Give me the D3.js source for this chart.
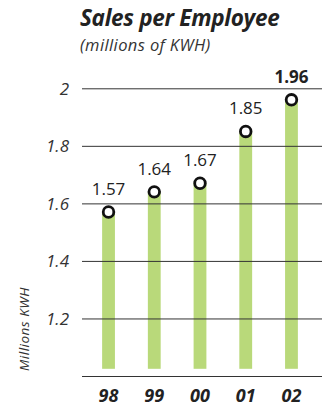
<!DOCTYPE html>
<html>
<head>
<meta charset="utf-8">
<script src="https://cdn.jsdelivr.net/npm/d3@7/dist/d3.min.js"></script>
<style>
  html, body { margin: 0; padding: 0; background: #fff; }
  svg { display: block; font-family: "Open Sans", "Noto Sans", sans-serif; }
</style>
</head>
<body>
<svg id="chart" width="322" height="407"></svg>
<script>
// Sales per employee, millions of KWH
const years = ["98", "99", "00", "01", "02"];
const sales = [1.57, 1.64, 1.67, 1.85, 1.96];
const yTicks = [1.2, 1.4, 1.6, 1.8, 2];

const svg = d3.select("#chart");
const plotLeft = 82, plotRight = 322, plotTop = 88.3, plotBottom = 376;

const x = d3.scaleBand().domain(years).range([82, 318]).paddingInner(0.72).paddingOuter(0.44);
const y = d3.scaleLinear().domain([1, 2]).range([plotBottom, plotTop]);

// title block
svg.append("text").attr("x", 80).attr("y", 26)
  .attr("font-size", 22.5).attr("font-weight", 700).attr("font-style", "italic")
  .attr("letter-spacing", -0.3)
  .attr("fill", "#222").text("Sales per Employee");
svg.append("text").attr("x", 80).attr("y", 51)
  .attr("font-size", 16.5).attr("font-style", "italic")
  .attr("letter-spacing", 0.4)
  .attr("fill", "#333").text("(millions of KWH)");

// bars (stop a little short of the baseline)
svg.append("g").selectAll("rect").data(sales).join("rect")
  .attr("x", (d, i) => x(years[i]))
  .attr("width", x.bandwidth())
  .attr("y", d => y(d))
  .attr("height", d => y(1.025) - y(d))
  .attr("fill", "#b9d97a");

// gridlines drawn over bars
const yAxis = d3.axisLeft(y).tickValues(yTicks).tickSize(-(plotRight - plotLeft)).tickFormat(d3.format("~g"));
const gy = svg.append("g").attr("transform", `translate(${plotLeft},0)`).call(yAxis);
gy.select(".domain").remove();
gy.selectAll(".tick line").attr("stroke", "#333").attr("stroke-width", 1);
gy.selectAll(".tick text")
  .attr("x", -13).attr("dy", "0.35em")
  .attr("font-size", 17).attr("font-style", "italic")
  .attr("font-family", "'Open Sans', sans-serif")
  .attr("fill", "#333");

// baseline
svg.append("line").attr("x1", plotLeft).attr("x2", plotRight)
  .attr("y1", plotBottom + 0.5).attr("y2", plotBottom + 0.5)
  .attr("stroke", "#333").attr("stroke-width", 1);

// x labels
const xAxis = d3.axisBottom(x).tickSize(0);
const gx = svg.append("g").attr("transform", `translate(0,${plotBottom})`).call(xAxis);
gx.select(".domain").remove();
gx.selectAll(".tick text")
  .attr("y", 26).attr("dy", 0)
  .attr("font-size", 18).attr("font-weight", 700).attr("font-style", "italic")
  .attr("font-family", "'Open Sans', sans-serif")
  .attr("fill", "#222");

// markers
svg.append("g").selectAll("circle").data(sales).join("circle")
  .attr("cx", (d, i) => x(years[i]) + x.bandwidth() / 2)
  .attr("cy", d => y(d))
  .attr("r", 5.3)
  .attr("fill", "#fff").attr("stroke", "#111").attr("stroke-width", 2.8);

// value labels
svg.append("g").selectAll("text").data(sales).join("text")
  .attr("x", (d, i) => x(years[i]) + x.bandwidth() / 2)
  .attr("y", d => y(d) - 17)
  .attr("text-anchor", "middle")
  .attr("font-size", 17)
  .attr("font-weight", (d, i) => i === sales.length - 1 ? 700 : 400)
  .attr("fill", "#222")
  .text(d => d3.format(".2f")(d));

// y axis title
svg.append("text")
  .attr("transform", "translate(29,329) rotate(-90)")
  .attr("text-anchor", "middle")
  .attr("font-size", 13.5).attr("font-style", "italic")
  .attr("letter-spacing", 0.5)
  .attr("fill", "#333").text("Millions  KWH");
</script>
</body>
</html>
